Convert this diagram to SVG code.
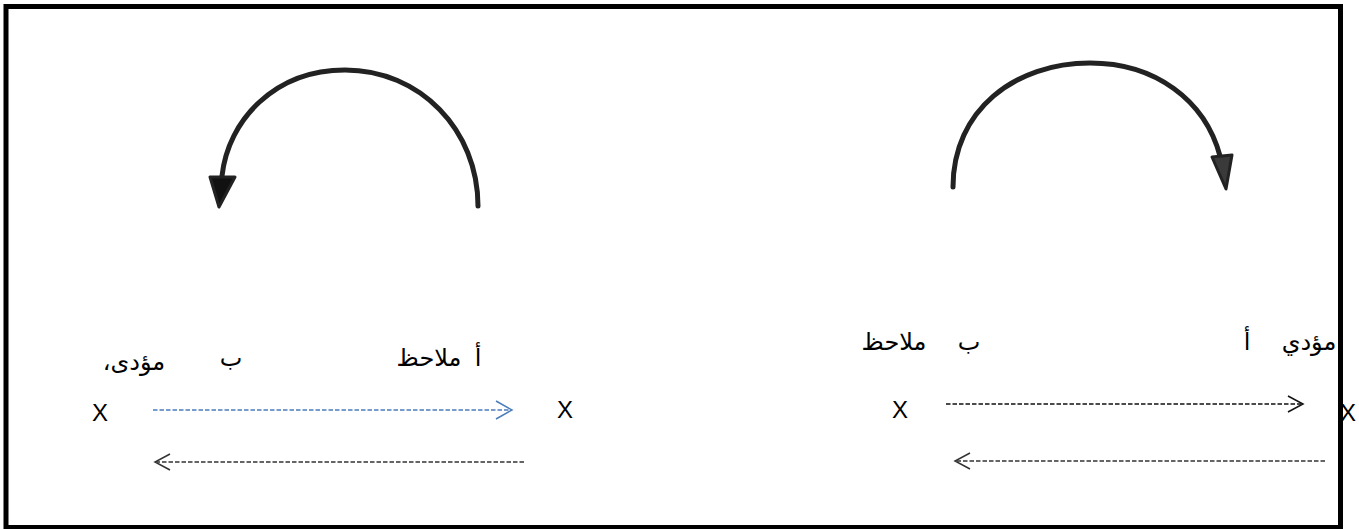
<svg xmlns="http://www.w3.org/2000/svg" width="1359" height="529" viewBox="0 0 1359 529">
<style>
.ar{font-family:"DejaVu Sans","Noto Sans",sans-serif;font-size:24px;fill:#000;text-anchor:middle;direction:rtl}
.x{font-family:"Liberation Sans",Arial,sans-serif;font-size:24px;fill:#000;text-anchor:middle}
.arc{fill:none;stroke:#222;stroke-width:5;stroke-linecap:round}
.head{stroke:#222;stroke-width:3;stroke-linejoin:round}
.dash{fill:none;stroke-width:1.4;stroke-dasharray:4.5,2}
.chev{fill:none;stroke-width:1.5}
</style>
<rect x="6" y="6.5" width="1334.5" height="521" fill="#fff" stroke="#000" stroke-width="5"/>
<g id="labels-left">
<text class="ar" x="134" y="370">مؤدى،</text>
<text class="ar" x="231" y="366">ب</text>
<text class="ar" x="429" y="366">ملاحظ</text>
<text class="ar" x="478" y="366">أ</text>
</g>
<g id="labels-right">
<text class="ar" x="894" y="350">ملاحظ</text>
<text class="ar" x="969" y="350">ب</text>
<text class="ar" x="1247" y="350">أ</text>
<text class="ar" x="1309" y="350">مؤدي</text>
</g>
<g id="node-x1"><text class="x" x="100" y="421">X</text></g>
<g id="node-x2"><text class="x" x="565" y="418">X</text></g>
<g id="node-x3"><text class="x" x="900" y="418">X</text></g>
<g id="node-x4"><text class="x" x="1348" y="421">X</text></g>
<g id="connectors">
<path class="arc" d="M478,206 C478,130 420,70 345,70 C275,70 228,120 222,176"/>
<polygon class="head" fill="#111" points="210,177 235,177 219,207"/>
<path class="arc" d="M953,187 C953,110 1015,63 1090,63 C1155,63 1205,100 1220,156"/>
<polygon class="head" fill="#3a3a3a" points="1212,157 1232,155 1226,189"/>
<line class="dash" stroke="#4a7ebb" x1="153" y1="410" x2="510" y2="410"/>
<polyline class="chev" stroke="#4a7ebb" points="496,401 512,410 496,419"/>
<line class="dash" stroke="#333" x1="524" y1="462" x2="157" y2="462"/>
<polyline class="chev" stroke="#333" points="170,454 155,462 170,470"/>
<line class="dash" stroke="#111" x1="946" y1="404" x2="1301" y2="404"/>
<polyline class="chev" stroke="#111" points="1288,396 1303,404 1288,412"/>
<line class="dash" stroke="#333" x1="1325" y1="461" x2="957" y2="461"/>
<polyline class="chev" stroke="#333" points="970,453 955,461 970,469"/>
</g>
</svg>
